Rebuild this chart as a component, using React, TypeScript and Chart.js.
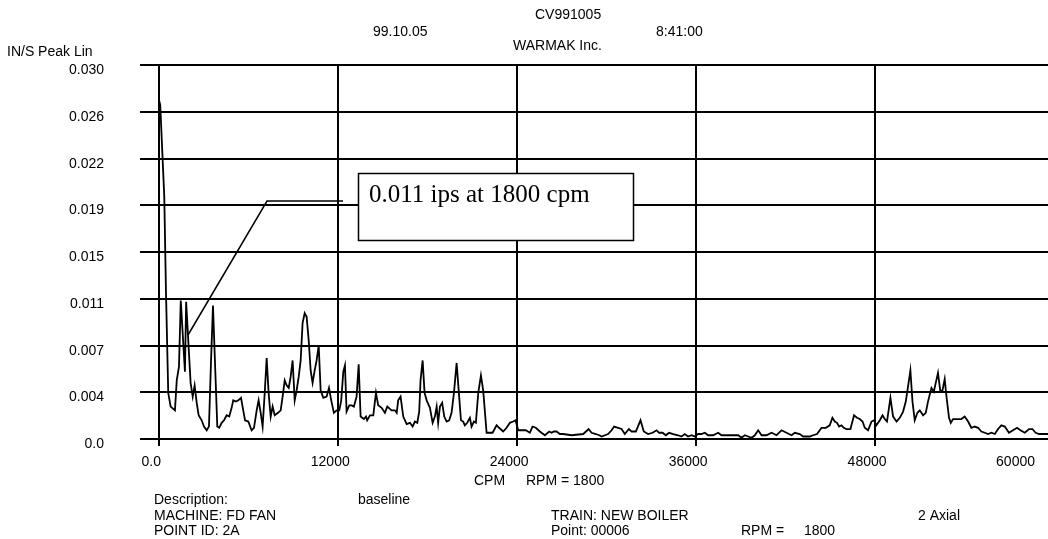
import React, { useEffect, useRef } from "react";
import { Chart, registerables } from "chart.js";

Chart.register(...registerables);

// Velocity spectrum: frequency (CPM) and amplitude (IN/S peak)
const cpm = [
  0, 70, 335, 450, 600, 760, 1050, 1170, 1320, 1440, 1720, 1800, 2100, 2240, 2370, 2510, 2640, 2840, 3000, 3180,
  3330, 3470, 3600, 3730, 3890, 4020, 4180, 4340, 4520, 4690, 4850, 4960, 5140, 5300, 5480, 5630, 5750, 5970, 6190, 6350,
  6530, 6660, 6800, 6930, 7070, 7200, 7330, 7470, 7600, 7740, 7960, 8140, 8270, 8410, 8540, 8680, 8810, 8940, 9080, 9210,
  9350, 9480, 9610, 9750, 9880, 10020, 10150, 10280, 10420, 10550, 10690, 10820, 11000, 11220, 11380, 11530, 11710, 11890, 12070, 12200,
  12340, 12450, 12560, 12740, 12900, 13050, 13230, 13370, 13500, 13720, 13860, 13940, 14130, 14350, 14530, 14680, 14910, 15130, 15290, 15580,
  15800, 15920, 16020, 16180, 16360, 16590, 16810, 16990, 17140, 17300, 17430, 17520, 17660, 17790, 17930, 18150, 18330, 18480, 18600, 18700,
  18820, 18970, 19110, 19270, 19440, 19600, 19760, 19940, 20090, 20230, 20380, 20490, 20650, 20830, 20940, 21100, 21230, 21390, 21570, 21720,
  21950, 22350, 22620, 22790, 23060, 23290, 23510, 23730, 23890, 24070, 24580, 24850, 25030, 25250, 25520, 25860, 26150, 26310, 26460, 26640,
  26860, 27080, 27650, 28430, 28790, 28990, 29280, 29500, 29660, 29880, 30100, 30330, 30500, 30770, 31000, 31220, 31490, 31670, 31960, 32270,
  32490, 32780, 33080, 33350, 33520, 33750, 33970, 34190, 34460, 34790, 35020, 35240, 35460, 35690, 35910, 36130, 36360, 36580, 36810, 37140,
  37480, 37700, 38150, 38820, 39040, 39270, 39490, 39720, 39940, 40160, 40390, 40720, 41060, 41390, 41730, 42060, 42400, 42620, 42950, 43170,
  43400, 43620, 43840, 44110, 44410, 44700, 44960, 45140, 45300, 45450, 45590, 45750, 45900, 46080, 46350, 46590, 46790, 46970, 47160, 47310,
  47530, 47760, 47930, 48090, 48320, 48500, 48650, 48800, 49030, 49210, 49440, 49660, 49880, 50060, 50210, 50370, 50510, 50660, 50840, 51000,
  51220, 51400, 51550, 51780, 51940, 52070, 52220, 52380, 52520, 52670, 52790, 52960, 53080, 53230, 53790, 54010, 54240, 54460, 54680, 54910,
  55130, 55360, 55580, 55800, 56030, 56250, 56470, 56700, 56980, 57250, 57520, 57750, 58040, 58330, 58550, 58770, 59000, 59260, 59580, 60000,
];

const ips = [
  0.0262, 0.0266, 0.0194, 0.0117, 0.0037, 0.0026, 0.0023, 0.0047, 0.0058, 0.0111, 0.0054, 0.011, 0.0045, 0.0034, 0.0043, 0.0029, 0.0019, 0.0015, 0.001, 0.0007,
  0.001, 0.0063, 0.0107, 0.0063, 0.001, 0.0009, 0.0013, 0.0015, 0.0019, 0.0018, 0.0025, 0.0031, 0.003, 0.0031, 0.0033, 0.0023, 0.0015, 0.0014, 0.0007, 0.0009,
  0.0023, 0.0031, 0.0021, 0.001, 0.0037, 0.0065, 0.0037, 0.0018, 0.0026, 0.0019, 0.0021, 0.0023, 0.0034, 0.0047, 0.0043, 0.0041, 0.005, 0.0063, 0.0031, 0.0039,
  0.005, 0.0063, 0.0093, 0.0101, 0.0098, 0.0079, 0.0055, 0.0045, 0.0055, 0.0063, 0.0075, 0.0039, 0.0033, 0.0034, 0.0041, 0.0031, 0.0021, 0.0023, 0.0023, 0.0031,
  0.0054, 0.0059, 0.0022, 0.0027, 0.0027, 0.0026, 0.0034, 0.006, 0.0018, 0.0016, 0.0018, 0.0015, 0.0019, 0.0019, 0.0037, 0.0027, 0.0025, 0.0021, 0.0026, 0.0023,
  0.0023, 0.0021, 0.0031, 0.0034, 0.0018, 0.0012, 0.0013, 0.001, 0.0014, 0.0013, 0.0022, 0.0047, 0.0063, 0.0037, 0.0031, 0.0025, 0.0013, 0.0018, 0.0026, 0.0013,
  0.0026, 0.0029, 0.0018, 0.0014, 0.0015, 0.0021, 0.0037, 0.0061, 0.0037, 0.0015, 0.0014, 0.0011, 0.0013, 0.0017, 0.001, 0.0014, 0.0013, 0.0037, 0.0051, 0.0039,
  0.0005, 0.0005, 0.0011, 0.0009, 0.0006, 0.0009, 0.0013, 0.0014, 0.0015, 0.0007, 0.0007, 0.0005, 0.001, 0.0009, 0.0006, 0.0003, 0.0006, 0.0005, 0.0006, 0.0006,
  0.0004, 0.0004, 0.0003, 0.0004, 0.0008, 0.0005, 0.0004, 0.0003, 0.0002, 0.0003, 0.0004, 0.0007, 0.001, 0.0009, 0.0008, 0.0004, 0.0008, 0.0006, 0.0006, 0.0015,
  0.0006, 0.0004, 0.0005, 0.0007, 0.0005, 0.0005, 0.0003, 0.0005, 0.0004, 0.0003, 0.0002, 0.0004, 0.0002, 0.0003, 0.0002, 0.0004, 0.0004, 0.0005, 0.0003, 0.0003,
  0.0005, 0.0003, 0.0003, 0.0003, 0.0001, 0.0003, 0.0002, 0.0001, 0.0003, 0.0007, 0.0003, 0.0003, 0.0005, 0.0003, 0.0007, 0.0005, 0.0003, 0.0005, 0.0004, 0.0002,
  0.0002, 0.0002, 0.0003, 0.0004, 0.0009, 0.0009, 0.0011, 0.0017, 0.0014, 0.0013, 0.001, 0.0011, 0.0009, 0.0008, 0.0008, 0.0019, 0.0017, 0.0016, 0.0014, 0.0009,
  0.0007, 0.0014, 0.0015, 0.0011, 0.0015, 0.0019, 0.0016, 0.0014, 0.0033, 0.0018, 0.0014, 0.0017, 0.0022, 0.003, 0.0042, 0.0055, 0.003, 0.0015, 0.0021, 0.0023,
  0.0019, 0.0021, 0.003, 0.0041, 0.0038, 0.0045, 0.0053, 0.0038, 0.0039, 0.0048, 0.0034, 0.0017, 0.0013, 0.0016, 0.0016, 0.0018, 0.0014, 0.0009, 0.001, 0.0009,
  0.0006, 0.0005, 0.0004, 0.0005, 0.0004, 0.0008, 0.0011, 0.001, 0.0005, 0.0007, 0.0009, 0.0007, 0.0005, 0.0008, 0.0008, 0.0005, 0.0004, 0.0004, 0.0004, 0.0004,
];

const xTickValues = [0, 12000, 24000, 36000, 48000, 60000];
const xTickLabels = ["0.0", "12000", "24000", "36000", "48000", "60000"];
const yTickValues = [0, 0.00375, 0.0075, 0.01125, 0.015, 0.01875, 0.0225, 0.02625, 0.03];
const yTickLabels = ["0.0", "0.004", "0.007", "0.011", "0.015", "0.019", "0.022", "0.026", "0.030"];

const yAxisTitle = "IN/S Peak Lin";
const xAxisTitle = "CPM";
const rpmCaption = "RPM = 1800";
const titleText = "CV991005";
const dateText = "99.10.05";
const timeText = "8:41:00";
const companyText = "WARMAK Inc.";
const calloutText = "0.011 ips at 1800 cpm";

const SANS = '14px "Liberation Sans", Arial, sans-serif';
const SERIF = '25px "Liberation Serif", "Times New Roman", serif';

const labelPlugin = {
  id: "spectrumLabels",
  afterDatasetsDraw(chart: any) {
    const ctx: CanvasRenderingContext2D = chart.ctx;
    ctx.save();
    // leader line to the 1800 cpm peak
    ctx.strokeStyle = "#000";
    ctx.lineWidth = 1.5;
    ctx.beginPath();
    ctx.moveTo(188, 335);
    ctx.lineTo(267, 201);
    ctx.lineTo(343, 201);
    ctx.stroke();
    // callout box
    ctx.fillStyle = "#fff";
    ctx.fillRect(358.5, 173.5, 275, 67);
    ctx.strokeRect(358.5, 173.5, 275, 67);
    ctx.fillStyle = "#000";
    ctx.font = SERIF;
    ctx.textAlign = "left";
    ctx.textBaseline = "alphabetic";
    ctx.fillText(calloutText, 369, 202);
    ctx.restore();
  },
  afterDraw(chart: any) {
    const ctx: CanvasRenderingContext2D = chart.ctx;
    const { x, y } = chart.scales;
    ctx.save();
    ctx.fillStyle = "#000";
    ctx.font = SANS;
    ctx.textBaseline = "alphabetic";

    ctx.textAlign = "right";
    yTickValues.forEach((v, i) => {
      ctx.fillText(yTickLabels[i], 104, y.getPixelForValue(v) + 9);
    });

    ctx.textAlign = "center";
    xTickValues.forEach((v, i) => {
      const w = ctx.measureText(xTickLabels[i]).width;
      const cx = Math.min(x.getPixelForValue(v) - 8, 1035 - w / 2);
      ctx.fillText(xTickLabels[i], cx, 466);
    });

    ctx.textAlign = "left";
    ctx.fillText(yAxisTitle, 7, 56);
    ctx.fillText(titleText, 535, 19);
    ctx.fillText(dateText, 373, 36);
    ctx.fillText(timeText, 656, 36);
    ctx.fillText(companyText, 513, 50);

    ctx.fillText(xAxisTitle, 474, 485);
    ctx.fillText(rpmCaption, 526, 485);

    ctx.fillText("Description:", 154, 504);
    ctx.fillText("baseline", 358, 504);
    ctx.fillText("MACHINE: FD FAN", 154, 520);
    ctx.fillText("TRAIN: NEW BOILER", 551, 520);
    ctx.fillText("2 Axial", 918, 520);
    ctx.fillText("POINT ID: 2A", 154, 535);
    ctx.fillText("Point: 00006", 551, 535);
    ctx.fillText("RPM =", 741, 535);
    ctx.fillText("1800", 804, 535);
    ctx.restore();
  },
};

export default function App() {
  const canvasRef = useRef<HTMLCanvasElement | null>(null);

  useEffect(() => {
    const canvas = canvasRef.current;
    if (!canvas) return;
    const chart = new Chart(canvas, {
      type: "line",
      data: {
        datasets: [
          {
            data: cpm.map((v, i) => ({ x: v, y: ips[i] })),
            borderColor: "#000",
            borderWidth: 1.8,
            pointRadius: 0,
            tension: 0,
            fill: false,
          },
        ],
      },
      options: {
        animation: false,
        responsive: false,
        devicePixelRatio: 1,
        layout: { padding: { left: 140, top: 65, right: 6, bottom: 93 } },
        plugins: {
          legend: { display: false },
          tooltip: { enabled: false },
          title: { display: false },
        },
        scales: {
          x: {
            type: "linear",
            min: -1294,
            max: 60000,
            afterBuildTicks: (s: any) => {
              s.ticks = xTickValues.map((value) => ({ value }));
            },
            ticks: { display: false },
            border: { display: false },
            grid: { color: "#000", lineWidth: 2, drawTicks: true, tickLength: 7, tickColor: "#000", tickWidth: 2 },
          },
          y: {
            type: "linear",
            min: 0,
            max: 0.03,
            afterBuildTicks: (s: any) => {
              s.ticks = yTickValues.map((value) => ({ value }));
            },
            ticks: { display: false },
            border: { display: false },
            grid: { color: "#000", lineWidth: 2, drawTicks: false },
          },
        },
      } as any,
      plugins: [labelPlugin],
    });
    return () => chart.destroy();
  }, []);

  return (
    <div
      style={{
        position: "absolute",
        left: 0,
        top: 0,
        width: 1048,
        height: 539,
        overflow: "hidden",
        background: "#fff",
      }}
    >
      <canvas ref={canvasRef} width={1060} height={539} style={{ display: "block" }} />
    </div>
  );
}
